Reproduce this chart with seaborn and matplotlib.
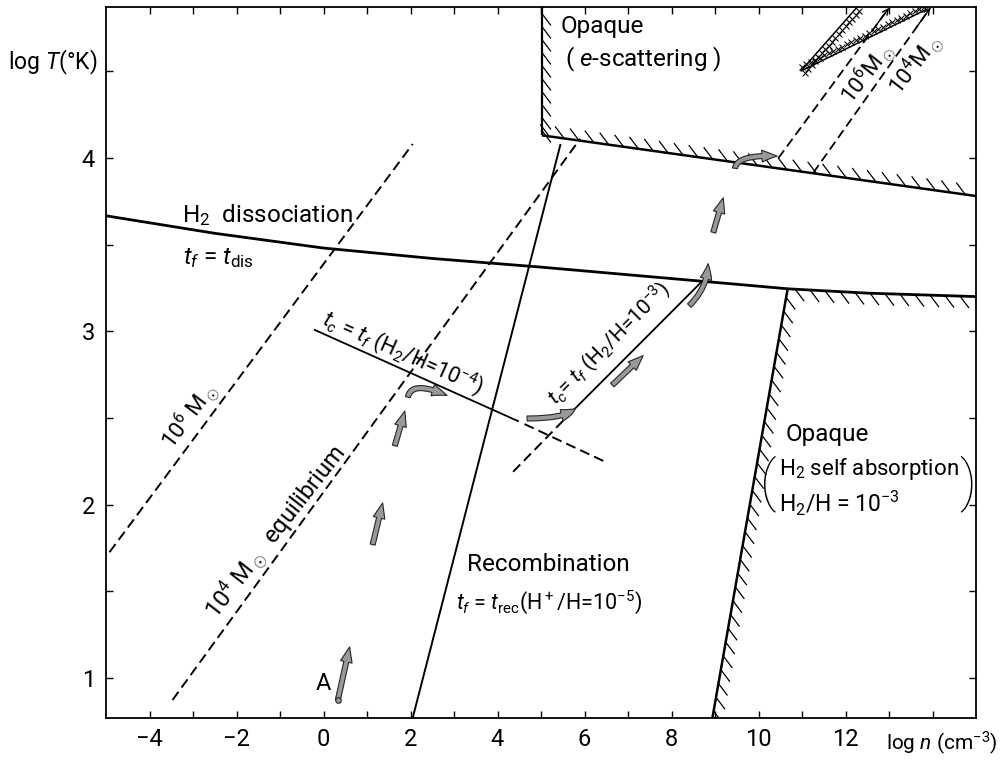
import numpy as np
import matplotlib
matplotlib.use("Agg")
import matplotlib.pyplot as plt
from matplotlib.patches import FancyArrowPatch, ArrowStyle
from matplotlib.collections import LineCollection
from matplotlib.path import Path
from matplotlib.transforms import offset_copy
import seaborn as sns

# ---------------- data: (log n [cm^-3], log T [K]) ----------------
h2_dis_x = [-5.0, -2.5, 0.0, 2.5, 5.0, 7.5, 10.0, 10.67, 12.5, 15.0]
h2_dis_y = [3.666, 3.565, 3.48, 3.42, 3.37, 3.315, 3.26, 3.245, 3.22, 3.20]
rec_x = [2.05, 5.45]
rec_y = [0.77, 4.08]
jeans6_x = [-4.92, 2.05]
jeans6_y = [1.726, 4.08]
jeans4_x = [-3.47, 5.9]
jeans4_y = [0.874, 4.11]
tc4_solid_x = [-0.22, 4.49]
tc4_solid_y = [3.01, 2.48]
tc4_dash_x = [4.62, 6.54]
tc4_dash_y = [2.465, 2.24]
tc3_dash_x = [4.36, 5.67]
tc3_dash_y = [2.19, 2.526]
tc3_solid_x = [5.67, 8.71]
tc3_solid_y = [2.526, 3.29]
esc_wall_x = [5.02, 5.02]
esc_wall_y = [4.87, 4.13]
esc_floor_x = [5.02, 15.0]
esc_floor_y = [4.13, 3.78]
sa_wall_x = [8.94, 10.67]
sa_wall_y = [0.77, 3.245]
up6_x = [10.46, 13.0]
up6_y = [4.0, 4.865]
up4_x = [11.26, 13.95]
up4_y = [3.914, 4.865]
wedgeA_x = [10.97, 12.27]
wedgeA_y = [4.50, 4.87]
wedgeB_x = [10.97, 13.89]
wedgeB_y = [4.50, 4.86]

straight_arrows = [  # x0, y0, x1, y1
    (0.33, 0.874, 0.60, 1.18),
    (1.13, 1.77, 1.36, 2.01),
    (1.64, 2.34, 1.87, 2.54),
    (6.64, 2.69, 7.35, 2.86),
    (8.96, 3.57, 9.19, 3.77),
]
curved_arrows = [  # start, control, end
    ((1.94, 2.62), (2.02, 2.72), (2.84, 2.63)),
    ((4.68, 2.497), (5.56, 2.497), (5.79, 2.555)),
    ((8.41, 3.148), (8.84, 3.255), (8.84, 3.39)),
    ((9.46, 3.94), (9.50, 4.02), (10.43, 4.01)),
]

x_major = [-4, -2, 0, 2, 4, 6, 8, 10, 12, 14]
x_labels = ["\u22124", "\u22122", "0", "2", "4", "6", "8", "10", "12", ""]
x_minor = [-3, -1, 1, 3, 5, 7, 9, 11, 13]
y_major = [1, 2, 3, 4]
y_labels = ["1", "2", "3", "4"]
y_minor = [1.5, 2.5, 3.5, 4.5]

# ---------------- figure ----------------
sns.set_theme(style="ticks")
plt.rcParams['font.family'] = ['Roboto', 'DejaVu Sans']
plt.rcParams['mathtext.fontset'] = 'custom'
plt.rcParams['mathtext.rm'] = 'Roboto'
plt.rcParams['mathtext.it'] = 'Roboto:italic'
plt.rcParams['mathtext.bf'] = 'Roboto:bold'
for k in ['text.color', 'axes.labelcolor', 'xtick.color', 'ytick.color',
          'axes.edgecolor']:
    plt.rcParams[k] = 'black'

fig = plt.figure(figsize=(10.02, 7.6), dpi=100)
ax = fig.add_axes([106 / 1002, 42 / 760, 870 / 1002, 711 / 760])
ax.set_xlim(-5, 15)
ax.set_ylim(0.77, 4.87)


def line(x, y, lw=1.3, dashed=False):
    sns.lineplot(x=x, y=y, ax=ax, color='black', lw=lw, sort=False,
                 estimator=None, legend=False)
    ln = ax.lines[-1]
    ln.set_solid_capstyle('butt')
    if dashed:
        ln.set_dashes((5.2, 2.7))
        ln.set_dash_capstyle('butt')
    return ln


def hatch_marks(x, y, absdir, spacing=14.0, length=14.0, lw=0.9):
    """short parallel strokes along a boundary, drawn in display space"""
    P = ax.transData.transform(np.column_stack([x, y]))
    ds = np.hypot(*np.diff(P, axis=0).T)
    s = np.concatenate([[0], np.cumsum(ds)])
    st = np.arange(spacing * 0.5, s[-1], spacing)
    px = np.interp(st, s, P[:, 0])
    py = np.interp(st, s, P[:, 1])
    a = np.radians(absdir)
    ex = px + length * np.cos(a)
    ey = py + length * np.sin(a)
    inv = ax.transData.inverted()
    A = inv.transform(np.column_stack([px, py]))
    B = inv.transform(np.column_stack([ex, ey]))
    segs = np.stack([A, B], axis=1)
    ax.add_collection(LineCollection(segs, colors='black', linewidths=lw))


# main curves
line(h2_dis_x, h2_dis_y, lw=2.0)
line(rec_x, rec_y, lw=1.4)
line(jeans6_x, jeans6_y, lw=1.4, dashed=True)
line(jeans4_x, jeans4_y, lw=1.4, dashed=True)
line(tc4_solid_x, tc4_solid_y, lw=1.3)
line(tc4_dash_x, tc4_dash_y, lw=1.4, dashed=True)
line(tc3_dash_x, tc3_dash_y, lw=1.4, dashed=True)
line(tc3_solid_x, tc3_solid_y, lw=1.3)
line(up6_x, up6_y, lw=1.3, dashed=True)
line(up4_x, up4_y, lw=1.3, dashed=True)

# opaque boundaries with "\" hatching on the opaque side
DOWN_RIGHT = -53
UP_LEFT = 127
line(esc_wall_x, esc_wall_y, lw=1.6)
hatch_marks(esc_wall_x, esc_wall_y, DOWN_RIGHT, spacing=13, length=15)
line(esc_floor_x, esc_floor_y, lw=1.8)
hatch_marks(esc_floor_x, esc_floor_y, UP_LEFT, spacing=15, length=15)
line(sa_wall_x, sa_wall_y, lw=1.8)
hatch_marks(sa_wall_x, sa_wall_y, DOWN_RIGHT, spacing=14, length=15)
roof_x = [v for v in h2_dis_x if v >= sa_wall_x[-1]]
roof_y = [h2_dis_y[i] for i, v in enumerate(h2_dis_x) if v >= sa_wall_x[-1]]
hatch_marks(roof_x, roof_y, DOWN_RIGHT, spacing=15, length=15)

# cross-hatched wedge
for wx, wy, off in [(wedgeA_x, wedgeA_y, (2.2, -1.9)),
                    (wedgeB_x, wedgeB_y, (-1.1, 2.4))]:
    line(wx, wy, lw=1.1)
    P = ax.transData.transform(np.column_stack([wx, wy]))
    n = int(np.hypot(*(P[1] - P[0])) / 5.0)
    t = np.linspace(0.02, 0.98, n)
    px = wx[0] + t * (wx[1] - wx[0])
    py = wy[0] + t * (wy[1] - wy[0])
    tr = offset_copy(ax.transData, fig=fig, x=off[0], y=off[1], units='points')
    ax.plot(px, py, ls='none', marker='x', ms=3.8, mew=0.75, color='black',
            transform=tr)

# small arrowheads at the top of the upper dashed lines
for ux, uy in [(up6_x, up6_y), (up4_x, up4_y)]:
    fx = ux[1] - 0.12 * (ux[1] - ux[0])
    fy = uy[1] - 0.12 * (uy[1] - uy[0])
    ax.add_patch(FancyArrowPatch((fx, fy), (ux[1], uy[1]), arrowstyle='->',
                                 mutation_scale=10, lw=1.0, color='black',
                                 shrinkA=0, shrinkB=0, clip_on=False))

# evolutionary (grey) arrows
astyle = ArrowStyle.Simple(head_length=1.1, head_width=0.85, tail_width=0.36)
for x0, y0, x1, y1 in straight_arrows:
    ax.add_patch(FancyArrowPatch((x0, y0), (x1, y1), arrowstyle=astyle,
                                 mutation_scale=10, shrinkA=0, shrinkB=0,
                                 facecolor='0.6', edgecolor='0.15', lw=0.8,
                                 zorder=5))
for p0, pc, p1 in curved_arrows:
    path = Path([p0, pc, p1], [Path.MOVETO, Path.CURVE3, Path.CURVE3])
    ax.add_patch(FancyArrowPatch(path=path, arrowstyle=astyle,
                                 mutation_scale=10, facecolor='0.6',
                                 edgecolor='0.15', lw=0.8, zorder=5))
ax.plot([straight_arrows[0][0]], [straight_arrows[0][1]], marker='o', ms=4,
        mfc='0.6', mec='0.15', mew=0.8, zorder=6)

# ---------------- text ----------------
ax.text(-3.26, 3.63, r"H$_2$  dissociation", fontsize=17.5, ha='left', va='baseline')
ax.text(-3.24, 3.385, r"$t_f$ = $t_{\rm dis}$", fontsize=17.5, ha='left', va='baseline')
ax.text(-3.08, 2.515, r"10$^6$ M$_\odot$", fontsize=16, rotation=53,
        ha='center', va='center', rotation_mode='anchor')
ax.text(-1.09, 1.84, r"10$^4$ M$_\odot$  equilibrium", fontsize=17, rotation=52,
        ha='center', va='center', rotation_mode='anchor')
ax.text(1.83, 2.88, r"$t_c$ = $t_f$ (H$_2$/H=10$^{-4}$)", fontsize=15.5, rotation=-24,
        ha='center', va='center', rotation_mode='anchor')
ax.text(6.55, 2.93, r"$t_c$= $t_f$ (H$_2$/H=10$^{-3}$)", fontsize=15, rotation=45,
        ha='center', va='center', rotation_mode='anchor')
ax.text(3.30, 1.617, "Recombination", fontsize=17.5, ha='left', va='baseline')
ax.text(3.04, 1.40, r"$t_f$ = $t_{\rm rec}$(H$^+$/H=10$^{-5}$)", fontsize=15.5,
        ha='left', va='baseline')
ax.text(10.62, 2.37, "Opaque", fontsize=17.5, ha='left', va='baseline')
ax.text(10.46, 2.17, r"H$_2$ self absorption", fontsize=16, ha='left', va='baseline')
ax.text(10.46, 1.956, r"H$_2$/H = 10$^{-3}$", fontsize=16.5, ha='left', va='baseline')
ax.text(10.22, 2.12, "(", fontsize=40, ha='center', va='center',
        fontweight='light')
ax.text(14.8, 2.12, ")", fontsize=40, ha='center', va='center',
        fontweight='light')
ax.text(5.44, 4.72, "Opaque", fontsize=17.5, ha='left', va='baseline')
ax.text(5.56, 4.53, r"( $e$-scattering )", fontsize=17.5, ha='left', va='baseline')
ax.text(12.5, 4.49, r"10$^6$M$_\odot$", fontsize=16, rotation=52,
        ha='center', va='center', rotation_mode='anchor')
ax.text(13.6, 4.54, r"10$^4$M$_\odot$", fontsize=16, rotation=52,
        ha='center', va='center', rotation_mode='anchor')
ax.text(0.0, 0.97, "A", fontsize=17, ha='center', va='center')

fig.text(8 / 1002, 1 - 62 / 760, r"log $T$(°K)", fontsize=16.5, ha='left',
         va='center')
fig.text(886 / 1002, 1 - 743 / 760, r"log $n$ (cm$^{-3}$)", fontsize=15,
         ha='left', va='center')

# ---------------- axes styling ----------------
ax.set_xticks(x_major)
ax.set_xticklabels(x_labels)
ax.set_xticks(x_minor, minor=True)
ax.set_yticks(y_major)
ax.set_yticklabels(y_labels)
ax.set_yticks(y_minor, minor=True)
ax.tick_params(which='both', direction='in', top=True, right=True,
               length=5, width=1.0, color='black')
ax.tick_params(axis='x', labelsize=17, pad=7)
ax.tick_params(axis='y', labelsize=17, pad=8)
for s in ax.spines.values():
    s.set_linewidth(1.3)
    s.set_color('black')
ax.set_xlabel('')
ax.set_ylabel('')

fig.savefig("out.png", dpi=100)
